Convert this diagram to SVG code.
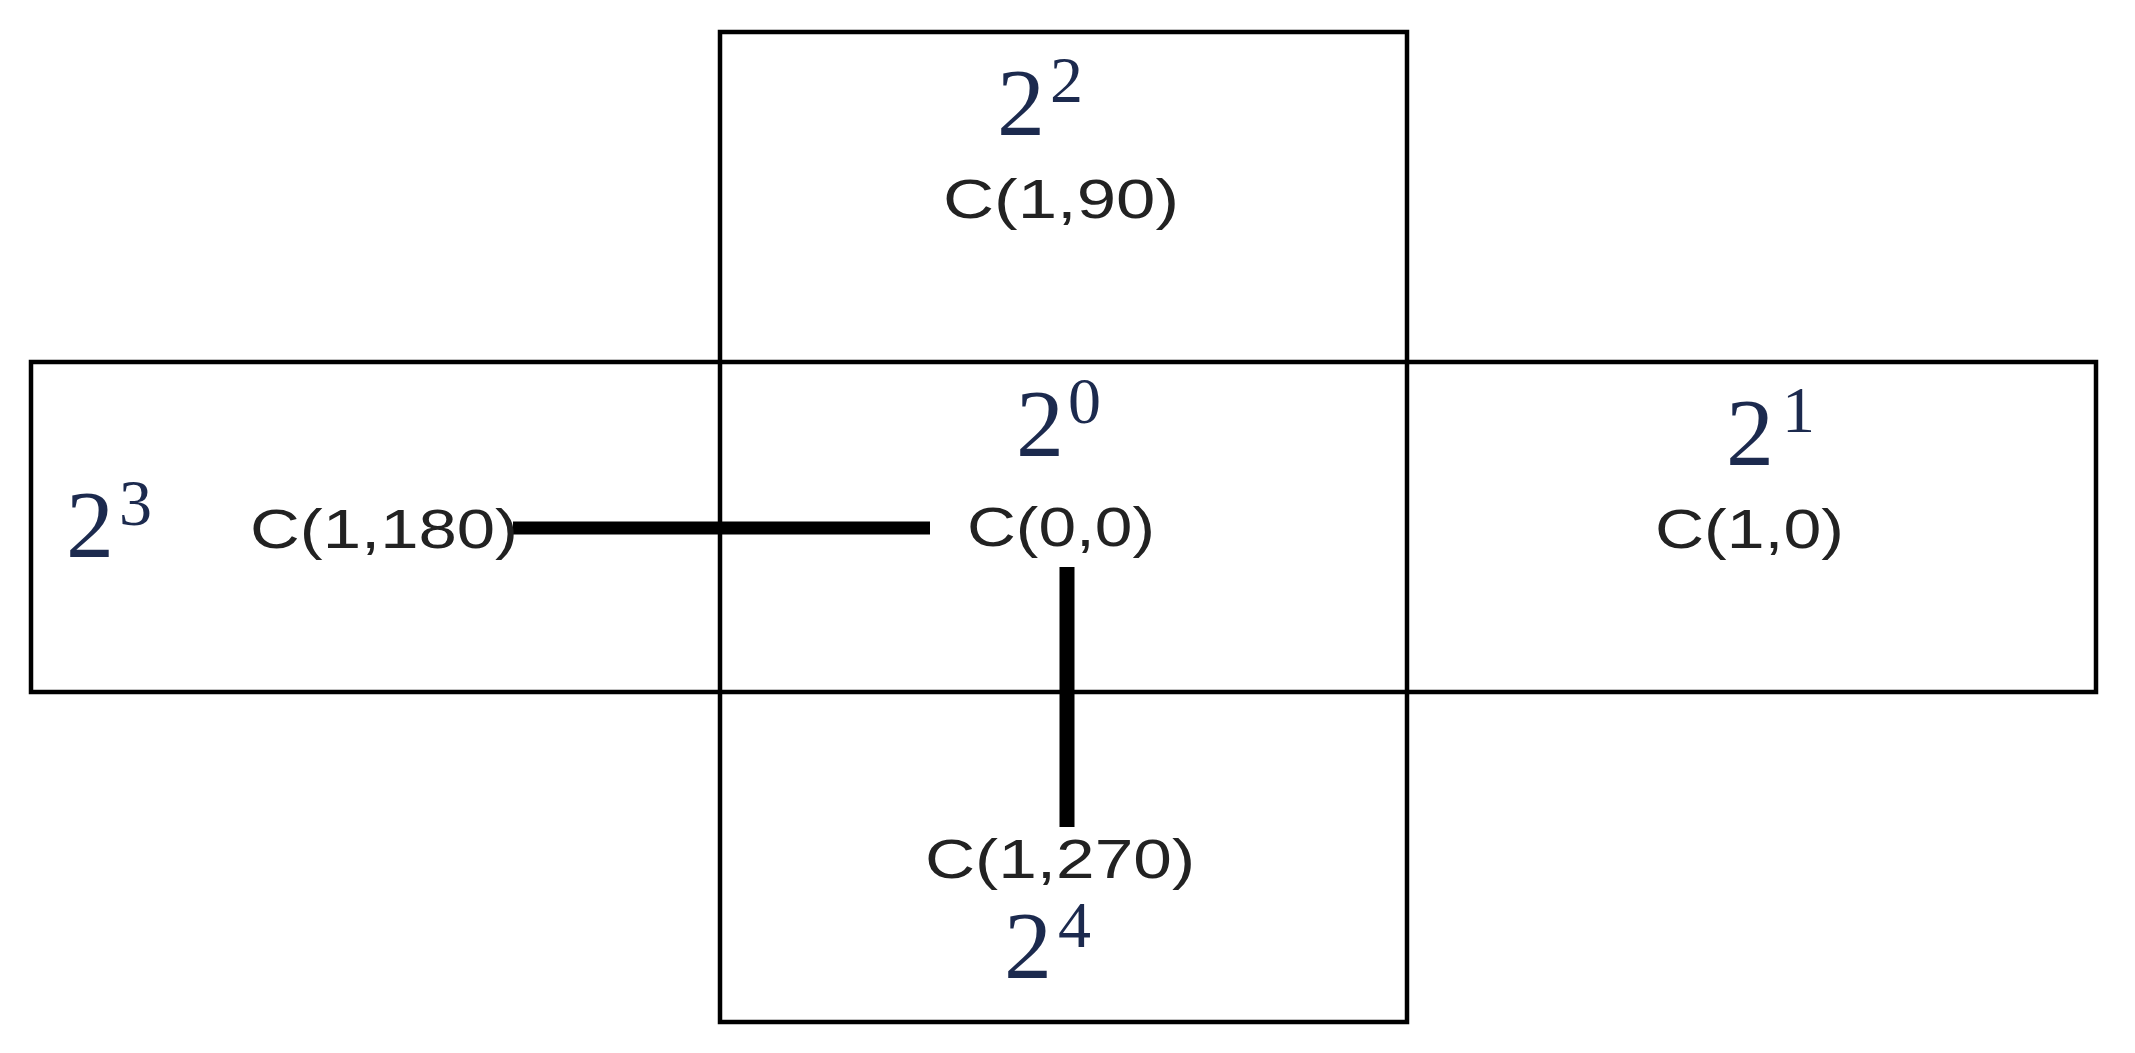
<svg xmlns="http://www.w3.org/2000/svg" width="2135" height="1053" viewBox="0 0 2135 1053">
<style>
.box{fill:none;stroke:#000;stroke-width:4.5}
.m{font-family:"Liberation Serif","Times New Roman",serif;font-size:96px;fill:#1c2a4e}
.s{font-size:66px}
.l{font-family:"Liberation Sans",Arial,sans-serif;font-size:56px;fill:#222}
.c{stroke:#000;stroke-linecap:butt}
</style>
<rect width="2135" height="1053" fill="#fff"/>
<g id="frames">
<rect class="box" x="720" y="32" width="687" height="990"/>
<rect class="box" x="31" y="362" width="2065" height="330"/>
</g>
<g id="connectors">
<line class="c" x1="513" y1="528" x2="930" y2="528" stroke-width="13"/>
<line class="c" x1="1067" y1="567" x2="1067" y2="827" stroke-width="15"/>
</g>
<g id="node-up">
<text class="m" x="997" y="135">2<tspan class="s" x="1050" y="102">2</tspan></text>
<text class="l" x="943" y="218" textLength="236" lengthAdjust="spacingAndGlyphs">C(1,90)</text>
</g>
<g id="node-center">
<text class="m" x="1016" y="456">2<tspan class="s" x="1068" y="423">0</tspan></text>
<text class="l" x="967" y="546" textLength="188" lengthAdjust="spacingAndGlyphs">C(0,0)</text>
</g>
<g id="node-left">
<text class="m" x="66" y="557">2<tspan class="s" x="119" y="525">3</tspan></text>
<text class="l" x="250" y="548" textLength="268" lengthAdjust="spacingAndGlyphs">C(1,180)</text>
</g>
<g id="node-right">
<text class="m" x="1726" y="465">2<tspan class="s" x="1782" y="432">1</tspan></text>
<text class="l" x="1655" y="548" textLength="189" lengthAdjust="spacingAndGlyphs">C(1,0)</text>
</g>
<g id="node-down">
<text class="l" x="925" y="878" textLength="270" lengthAdjust="spacingAndGlyphs">C(1,270)</text>
<text class="m" x="1004" y="978">2<tspan class="s" x="1058" y="947">4</tspan></text>
</g>
</svg>
